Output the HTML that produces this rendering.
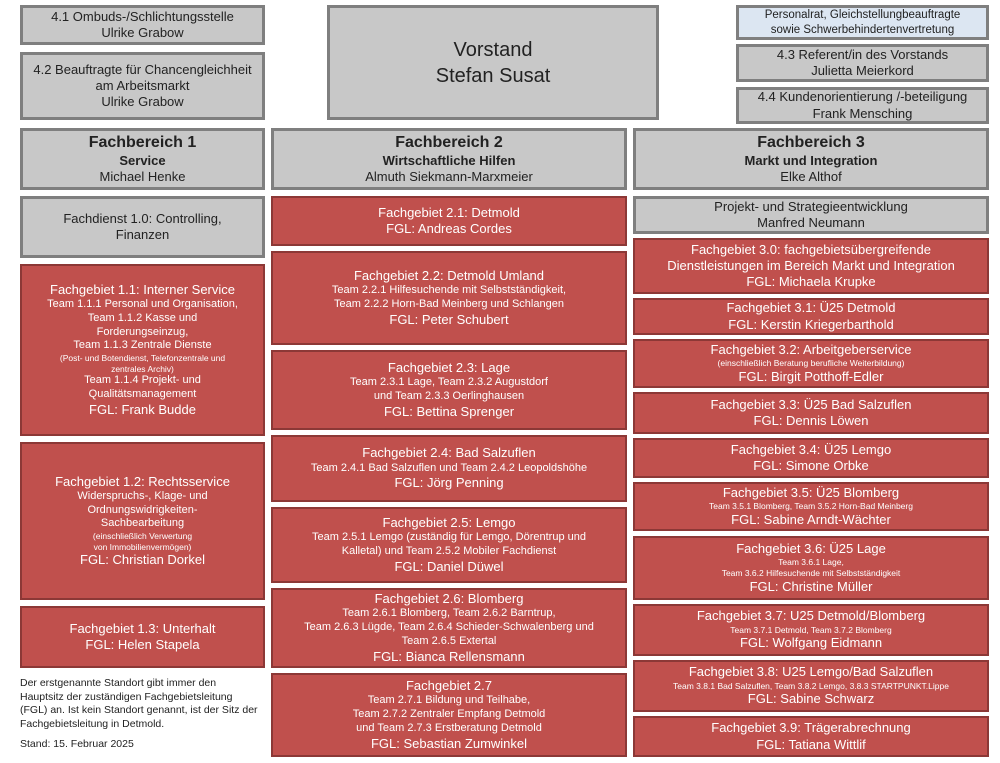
<!DOCTYPE html>
<html><head><meta charset="utf-8"><style>
body{margin:0;width:1000px;height:763px;background:#fff;position:relative;overflow:hidden;font-family:"Liberation Sans",sans-serif;}
.b{position:absolute;box-sizing:border-box;display:flex;flex-direction:column;justify-content:center;align-items:center;text-align:center;line-height:1.25;}
.g{background:#c8c8c8;border:3px solid #7f7f7f;color:#222;font-size:13px;}
.r{background:#c0504d;border:2px solid #8c3836;color:#fff;font-size:13px;}
.l{background:#dce6f2;border:3px solid #7f7f7f;color:#222;font-size:11.5px;}
.s{font-size:11px;}
.t{font-size:8.5px;}
.h{font-size:16px;font-weight:bold;}
.bo{font-weight:bold;}
.note{position:absolute;left:20px;top:677px;width:240px;font-size:10.5px;line-height:1.3;color:#222;}
</style></head><body>
<div class="b g" style="left:20px;top:5px;width:245px;height:40px">4.1 Ombuds-/Schlichtungsstelle<br>Ulrike Grabow</div>
<div class="b g" style="left:20px;top:52px;width:245px;height:68px">4.2 Beauftragte für Chancengleichheit<br>am Arbeitsmarkt<br>Ulrike Grabow</div>
<div class="b g" style="left:327px;top:5px;width:332px;height:115px;font-size:20px;line-height:1.3">Vorstand<br>Stefan Susat</div>
<div class="b l" style="left:736px;top:5px;width:253px;height:35px">Personalrat, Gleichstellungbeauftragte<br>sowie Schwerbehindertenvertretung</div>
<div class="b g" style="left:736px;top:44px;width:253px;height:38px">4.3 Referent/in des Vorstands<br>Julietta Meierkord</div>
<div class="b g" style="left:736px;top:87px;width:253px;height:37px">4.4 Kundenorientierung /-beteiligung<br>Frank Mensching</div>

<div class="b g" style="left:20px;top:128px;width:245px;height:62px"><span class="h">Fachbereich 1</span><span class="bo">Service</span>Michael Henke</div>
<div class="b g" style="left:271px;top:128px;width:356px;height:62px"><span class="h">Fachbereich 2</span><span class="bo">Wirtschaftliche Hilfen</span>Almuth Siekmann-Marxmeier</div>
<div class="b g" style="left:633px;top:128px;width:356px;height:62px"><span class="h">Fachbereich 3</span><span class="bo">Markt und Integration</span>Elke Althof</div>

<div class="b g" style="left:20px;top:196px;width:245px;height:62px">Fachdienst 1.0: Controlling,<br>Finanzen</div>
<div class="b r" style="left:20px;top:264px;width:245px;height:172px">Fachgebiet 1.1: Interner Service<span class="s">Team 1.1.1 Personal und Organisation,<br>Team 1.1.2 Kasse und<br>Forderungseinzug,<br>Team 1.1.3 Zentrale Dienste</span><span class="t">(Post- und Botendienst, Telefonzentrale und<br>zentrales Archiv)</span><span class="s">Team 1.1.4 Projekt- und<br>Qualitätsmanagement</span>FGL: Frank Budde</div>
<div class="b r" style="left:20px;top:442px;width:245px;height:158px">Fachgebiet 1.2: Rechtsservice<span class="s">Widerspruchs-, Klage- und<br>Ordnungswidrigkeiten-<br>Sachbearbeitung</span><span class="t">(einschließlich Verwertung<br>von Immobilienvermögen)</span>FGL: Christian Dorkel</div>
<div class="b r" style="left:20px;top:606px;width:245px;height:62px">Fachgebiet 1.3: Unterhalt<br>FGL: Helen Stapela</div>
<div class="note">Der erstgenannte Standort gibt immer den Hauptsitz der zuständigen Fachgebietsleitung (FGL) an. Ist kein Standort genannt, ist der Sitz der Fachgebietsleitung in Detmold.<div style="margin-top:6px">Stand: 15. Februar 2025</div></div>

<div class="b r" style="left:271px;top:196px;width:356px;height:50px">Fachgebiet 2.1: Detmold<br>FGL: Andreas Cordes</div>
<div class="b r" style="left:271px;top:251px;width:356px;height:94px">Fachgebiet 2.2: Detmold Umland<span class="s">Team 2.2.1 Hilfesuchende mit Selbstständigkeit,<br>Team 2.2.2 Horn-Bad Meinberg und Schlangen</span>FGL: Peter Schubert</div>
<div class="b r" style="left:271px;top:350px;width:356px;height:80px">Fachgebiet 2.3: Lage<span class="s">Team 2.3.1 Lage, Team 2.3.2 Augustdorf<br>und Team 2.3.3 Oerlinghausen</span>FGL: Bettina Sprenger</div>
<div class="b r" style="left:271px;top:435px;width:356px;height:67px">Fachgebiet 2.4: Bad Salzuflen<span class="s">Team 2.4.1 Bad Salzuflen und Team 2.4.2 Leopoldshöhe</span>FGL: Jörg Penning</div>
<div class="b r" style="left:271px;top:507px;width:356px;height:76px">Fachgebiet 2.5: Lemgo<span class="s">Team 2.5.1 Lemgo (zuständig für Lemgo, Dörentrup und<br>Kalletal) und Team 2.5.2 Mobiler Fachdienst</span>FGL: Daniel Düwel</div>
<div class="b r" style="left:271px;top:588px;width:356px;height:80px">Fachgebiet 2.6: Blomberg<span class="s">Team 2.6.1 Blomberg, Team 2.6.2 Barntrup,<br>Team 2.6.3 Lügde, Team 2.6.4 Schieder-Schwalenberg und<br>Team 2.6.5 Extertal</span>FGL: Bianca Rellensmann</div>
<div class="b r" style="left:271px;top:673px;width:356px;height:84px">Fachgebiet 2.7<span class="s">Team 2.7.1 Bildung und Teilhabe,<br>Team 2.7.2 Zentraler Empfang Detmold<br>und Team 2.7.3 Erstberatung Detmold</span>FGL: Sebastian Zumwinkel</div>

<div class="b g" style="left:633px;top:196px;width:356px;height:38px">Projekt- und Strategieentwicklung<br>Manfred Neumann</div>
<div class="b r" style="left:633px;top:238px;width:356px;height:56px">Fachgebiet 3.0: fachgebietsübergreifende<br>Dienstleistungen im Bereich Markt und Integration<br>FGL: Michaela Krupke</div>
<div class="b r" style="left:633px;top:298px;width:356px;height:37px">Fachgebiet 3.1: Ü25 Detmold<br>FGL: Kerstin Kriegerbarthold</div>
<div class="b r" style="left:633px;top:339px;width:356px;height:49px">Fachgebiet 3.2: Arbeitgeberservice<span class="t">(einschließlich Beratung berufliche Weiterbildung)</span>FGL: Birgit Potthoff-Edler</div>
<div class="b r" style="left:633px;top:392px;width:356px;height:42px">Fachgebiet 3.3: Ü25 Bad Salzuflen<br>FGL: Dennis Löwen</div>
<div class="b r" style="left:633px;top:438px;width:356px;height:40px">Fachgebiet 3.4: Ü25 Lemgo<br>FGL: Simone Orbke</div>
<div class="b r" style="left:633px;top:482px;width:356px;height:49px">Fachgebiet 3.5: Ü25 Blomberg<span class="t">Team 3.5.1 Blomberg, Team 3.5.2 Horn-Bad Meinberg</span>FGL: Sabine Arndt-Wächter</div>
<div class="b r" style="left:633px;top:536px;width:356px;height:64px">Fachgebiet 3.6: Ü25 Lage<span class="t">Team 3.6.1 Lage,<br>Team 3.6.2 Hilfesuchende mit Selbstständigkeit</span>FGL: Christine Müller</div>
<div class="b r" style="left:633px;top:604px;width:356px;height:52px">Fachgebiet 3.7: U25 Detmold/Blomberg<span class="t">Team 3.7.1 Detmold, Team 3.7.2 Blomberg</span>FGL: Wolfgang Eidmann</div>
<div class="b r" style="left:633px;top:660px;width:356px;height:52px">Fachgebiet 3.8: U25 Lemgo/Bad Salzuflen<span class="t">Team 3.8.1 Bad Salzuflen, Team 3.8.2 Lemgo, 3.8.3 STARTPUNKT.Lippe</span>FGL: Sabine Schwarz</div>
<div class="b r" style="left:633px;top:716px;width:356px;height:41px">Fachgebiet 3.9: Trägerabrechnung<br>FGL: Tatiana Wittlif</div>
</body></html>
